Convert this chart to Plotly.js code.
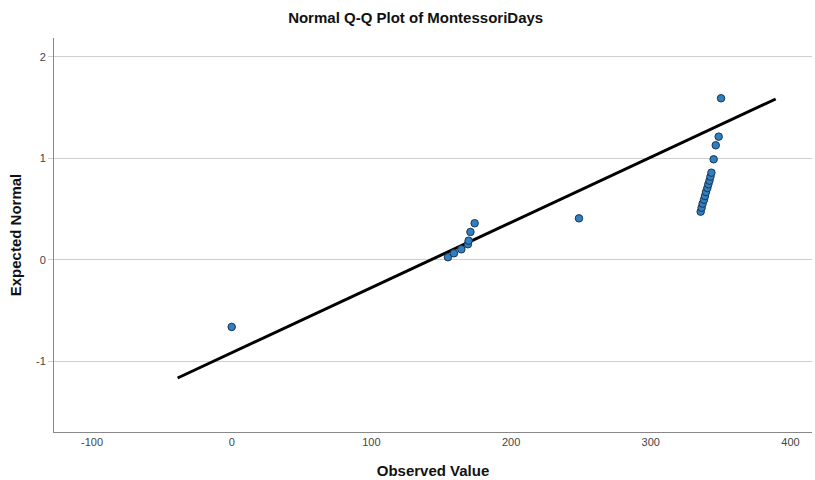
<!DOCTYPE html>
<html>
<head>
<meta charset="utf-8">
<script src="https://cdn.plot.ly/plotly-3.0.1.min.js"></script>
<style>html,body{margin:0;padding:0;background:#fff;}#chart{width:815px;height:480px;}</style>
</head>
<body>
<div id="chart"></div>
<script>
// Observed values and their expected normal scores
const observed = [0, 154.8, 159.1, 164.4, 169.1, 169.6, 170.9, 173.9, 248.6,
  335.7, 336.4, 337.1, 338.1, 338.8, 339.5, 340.5, 341.2, 342.0, 342.7, 343.4,
  345.0, 346.5, 348.6, 350.3];
const expectedNormal = [-0.66, 0.027, 0.066, 0.105, 0.155, 0.19, 0.276, 0.362, 0.41,
  0.476, 0.515, 0.555, 0.594, 0.630, 0.670, 0.709, 0.746, 0.781, 0.821, 0.860,
  0.992, 1.13, 1.215, 1.593];
// Reference line endpoints
const refLineX = [-38.7, 389.4];
const refLineY = [-1.163, 1.586];
const xTicks = [-100, 0, 100, 200, 300, 400];
const yTicks = [-1, 0, 1, 2];

const traces = [
  {
    x: refLineX, y: refLineY, type: 'scatter', mode: 'lines',
    line: {color: '#000000', width: 3}, hoverinfo: 'skip', showlegend: false
  },
  {
    x: observed, y: expectedNormal, type: 'scatter', mode: 'markers',
    marker: {size: 7.5, color: '#2f7fc1', line: {color: '#1a3550', width: 1}},
    showlegend: false
  }
];

const layout = {
  width: 815, height: 480,
  margin: {l: 54, r: 3, t: 38, b: 48},
  paper_bgcolor: '#ffffff', plot_bgcolor: '#ffffff',
  font: {family: 'Liberation Sans, Arial, sans-serif', color: '#333'},
  title: {
    text: 'Normal Q-Q Plot of MontessoriDays',
    font: {size: 15, color: '#111', weight: 'bold'},
    x: 0.51, xanchor: 'center', y: 0.963, yanchor: 'middle'
  },
  xaxis: {
    range: [-127.2, 415.4], tickvals: xTicks, ticktext: xTicks.map(String),
    showgrid: false, zeroline: false, showline: true, linecolor: '#888', linewidth: 1,
    ticks: '', tickfont: {size: 11, color: '#444'},
    title: {text: 'Observed Value', font: {size: 15, color: '#111', weight: 'bold'}, standoff: 18},
    mirror: false, fixedrange: true
  },
  yaxis: {
    range: [-1.695, 2.187], tickvals: yTicks, ticktext: yTicks.map(String),
    showgrid: true, gridcolor: '#cfcfcf', gridwidth: 1,
    zeroline: false, showline: true, linecolor: '#888', linewidth: 1,
    ticks: 'outside', ticklen: 5, tickcolor: '#cfcfcf',
    tickfont: {size: 11, color: '#444'},
    title: {text: 'Expected Normal', font: {size: 15, color: '#111', weight: 'bold'}, standoff: 10},
    fixedrange: true
  },
  showlegend: false
};

Plotly.newPlot('chart', traces, layout, {displayModeBar: false, staticPlot: true});
</script>
</body>
</html>
